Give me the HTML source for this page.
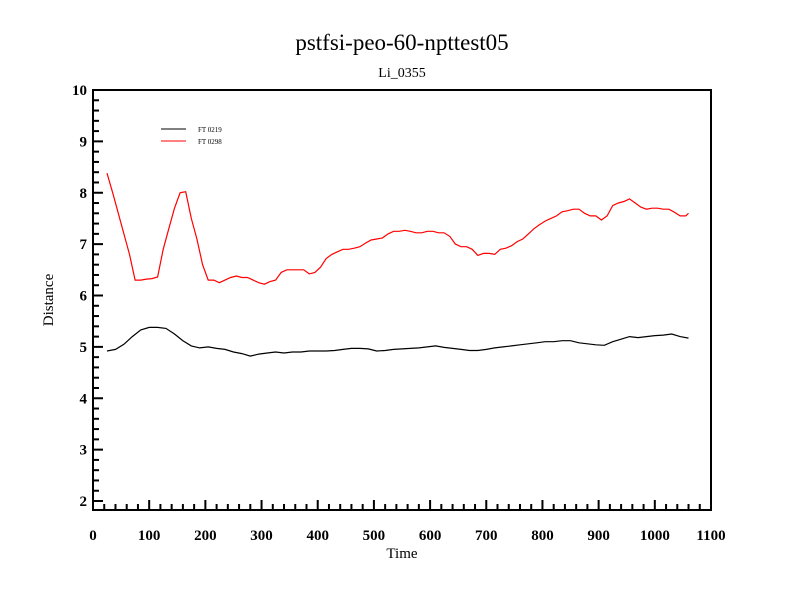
<!DOCTYPE html>
<html><head><meta charset="utf-8"><style>
html,body{margin:0;padding:0;background:#fff;}
svg{display:block;font-family:"Liberation Serif",serif;}
</style></head><body>
<svg id="chart" width="800" height="600">
<rect width="800" height="600" fill="#fff"/>
<text x="402" y="50" font-size="23" text-anchor="middle">pstfsi-peo-60-npttest05</text>
<text x="402" y="77" font-size="14" text-anchor="middle">Li_0355</text>
<text x="402" y="558" font-size="15" text-anchor="middle">Time</text>
<text x="0" y="0" font-size="15" text-anchor="middle" transform="translate(53,300) rotate(-90)">Distance</text>
<g id="axes"></g>
<g id="series"></g>
<g>
<line x1="161" y1="129" x2="186" y2="129" stroke="#000"/>
<text x="198" y="132" font-size="7">FT 0219</text>
<line x1="161" y1="141" x2="186" y2="141" stroke="#f00"/>
<text x="198" y="144" font-size="7">FT 0298</text>
</g>
</svg>
<script>
const xTicks=[0,100,200,300,400,500,600,700,800,900,1000,1100];
const yTicks=[2,3,4,5,6,7,8,9,10];
const redT=[25,35,45,55,65,75,85,95,105,115,125,135,145,155,165,175,185,195,205,215,225,235,245,255,265,275,285,295,305,315,325,335,345,355,365,375,385,395,405,415,425,435,445,455,465,475,485,495,505,515,525,535,545,555,565,575,585,595,605,615,625,635,645,655,665,675,685,695,705,715,725,735,745,755,765,775,785,795,805,815,825,835,845,855,865,875,885,895,905,915,925,935,945,955,965,975,985,995,1005,1015,1025,1035,1045,1055,1060];
const redV=[8.38,8.0,7.6,7.2,6.8,6.3,6.3,6.32,6.33,6.36,6.9,7.3,7.7,8.0,8.02,7.5,7.1,6.6,6.3,6.3,6.25,6.3,6.35,6.38,6.35,6.35,6.3,6.25,6.22,6.27,6.3,6.45,6.5,6.5,6.5,6.5,6.42,6.45,6.55,6.72,6.8,6.85,6.9,6.9,6.92,6.95,7.02,7.08,7.1,7.12,7.2,7.25,7.25,7.27,7.25,7.22,7.22,7.25,7.25,7.22,7.22,7.15,7.0,6.95,6.95,6.9,6.78,6.82,6.82,6.8,6.9,6.92,6.97,7.05,7.1,7.2,7.3,7.38,7.45,7.5,7.55,7.63,7.65,7.68,7.68,7.6,7.55,7.55,7.47,7.55,7.75,7.8,7.83,7.88,7.8,7.72,7.68,7.7,7.7,7.68,7.68,7.62,7.55,7.55,7.6];
const blackT=[25,40,55,70,85,100,115,130,145,160,175,190,205,220,235,250,265,280,295,310,325,340,355,370,385,400,415,430,445,460,475,490,505,520,535,550,565,580,595,610,625,640,655,670,685,700,715,730,745,760,775,790,805,820,835,850,865,880,895,910,925,940,955,970,985,1000,1015,1030,1045,1060];
const blackV=[4.92,4.95,5.05,5.2,5.33,5.38,5.38,5.36,5.25,5.12,5.02,4.98,5.0,4.97,4.95,4.9,4.87,4.82,4.86,4.88,4.9,4.88,4.9,4.9,4.92,4.92,4.92,4.93,4.95,4.97,4.97,4.96,4.92,4.93,4.95,4.96,4.97,4.98,5.0,5.02,4.99,4.97,4.95,4.93,4.93,4.95,4.98,5.0,5.02,5.04,5.06,5.08,5.1,5.1,5.12,5.12,5.08,5.06,5.04,5.03,5.1,5.15,5.2,5.18,5.2,5.22,5.23,5.25,5.2,5.17];

const L=93,R=711,T=90,B=510,XMIN=0,XMAX=1100,YMIN=1.825,YMAX=10;
const sx=v=>L+(v-XMIN)/(XMAX-XMIN)*(R-L);
const sy=v=>B-(v-YMIN)/(YMAX-YMIN)*(B-T);
const NS='http://www.w3.org/2000/svg';
function mk(tag,attrs,parent){const e=document.createElementNS(NS,tag);for(const k in attrs)e.setAttribute(k,attrs[k]);parent.appendChild(e);return e;}
const axes=document.getElementById('axes');
const frame=mk('rect',{x:L,y:T,width:R-L,height:B-T,fill:'none',stroke:'#000','stroke-width':2},axes);


for(let v=0;v<=XMAX;v+=20){
  const major=v%100===0;
  const t=mk('line',{x1:sx(v),x2:sx(v),y1:B,y2:B-(major?10:6),stroke:'#000','stroke-width':2},axes);
  
  
}
xTicks.forEach(v=>{
  const t=mk('text',{x:sx(v),y:B+30,'font-size':15,'font-weight':'bold','text-anchor':'middle'},axes);
  t.textContent=v;
  
  
});
for(let i=0;i<=41;i++){
  const v=2+i*0.2;
  if(v>YMAX+0.001)break;
  const major=i%5===0;
  const t=mk('line',{x1:L,x2:L+(major?10:6),y1:sy(v),y2:sy(v),stroke:'#000','stroke-width':2},axes);
  
  
}
yTicks.forEach(v=>{
  const t=mk('text',{x:L-6,y:sy(v)+5,'font-size':15,'font-weight':'bold','text-anchor':'end'},axes);
  t.textContent=v;
  
  
});
const series=document.getElementById('series');
function line(ts,vs,color,name){
  const d=ts.map((t,i)=>(i?'L':'M')+sx(t).toFixed(1)+','+sy(vs[i]).toFixed(1)).join('');
  const p=mk('path',{d:d,fill:'none',stroke:color,'stroke-width':1.2},series);
  
  
}
line(blackT,blackV,'#000','series-ft0219');
line(redT,redV,'#f00','series-ft0298');
</script>
</body></html>
